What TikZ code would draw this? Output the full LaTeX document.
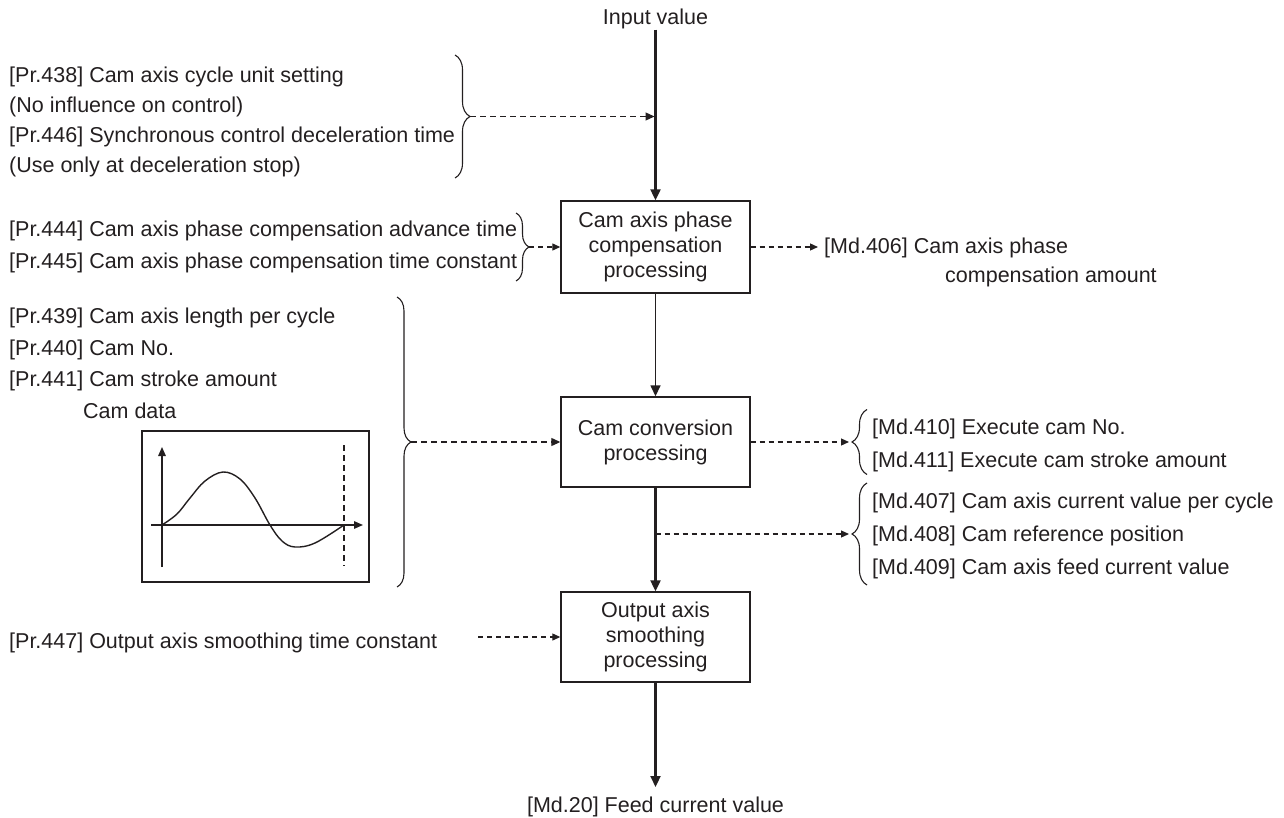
\documentclass[tikz,border=0pt]{standalone}
\usepackage{fontspec}
\setmainfont{Liberation Sans}
\usetikzlibrary{arrows.meta,decorations.pathreplacing,calc}
\definecolor{ink}{HTML}{231F20}
\begin{document}
\begin{tikzpicture}[x=1pt,y=-1pt,
  every node/.style={text=ink, font=\fontsize{21.5}{25}\selectfont},
  lbl/.style={anchor=base west, inner sep=0pt},
  ctr/.style={anchor=base, inner sep=0pt},
  procbox/.style={draw=ink, line width=1.4pt, minimum width=189pt, align=center, inner sep=0pt},
  flow/.style={draw=ink, line width=2.2pt, -{Triangle[length=11pt,width=10pt]}},
  thinflow/.style={draw=ink, line width=1.5pt, -{Triangle[length=11pt,width=10pt]}},
  dashflow/.style={draw=ink, line width=1.2pt, dash pattern=on 6pt off 4pt, -{Triangle[length=9pt,width=8pt]}},
  smalldash/.style={draw=ink, line width=1.2pt, dash pattern=on 5pt off 4pt, -{Triangle[length=8pt,width=7pt]}},
  bracedeco/.style={draw=ink, line width=1.1pt, decorate, decoration={brace, amplitude=#1}},
  thinline/.style={draw=ink, line width=1.4pt},
]
\useasboundingbox (0,0) rectangle (1284,818);

% main process boxes
\node[ctr] (inval) at (655.5,25) {Input value};
\node[procbox, minimum height=92pt] (box1) at (655.5,247) {Cam axis phase\\compensation\\processing};
\node[procbox, minimum height=90pt] (box2) at (655.5,442) {Cam conversion\\processing};
\node[procbox, minimum height=90pt] (box3) at (655.5,637) {Output axis\\smoothing\\processing};
\node[ctr] (md20) at (655.5,812) {[Md.20] Feed current value};
\coordinate (outend) at (655.5,787);

\draw[flow] (inval.south) -- (box1.north);
\draw[thinflow] (box1.south) -- (box2.north);
\draw[flow] (box2.south) -- (box3.north);
\draw[flow] (box3.south) -- (outend);

% left labels
\node[lbl] (p438) at (9,83) {[Pr.438] Cam axis cycle unit setting};
\node[lbl] (p438n) at (9,113) {(No influence on control)};
\node[lbl] (p446) at (9,143) {[Pr.446] Synchronous control deceleration time};
\node[lbl] (p446n) at (9,173) {(Use only at deceleration stop)};
\node[lbl] (p444) at (9,237) {[Pr.444] Cam axis phase compensation advance time};
\node[lbl] (p445) at (9,269) {[Pr.445] Cam axis phase compensation time constant};
\node[lbl] (p439) at (9,323) {[Pr.439] Cam axis length per cycle};
\node[lbl] (p440) at (9,355) {[Pr.440] Cam No.};
\node[lbl] (p441) at (9,386) {[Pr.441] Cam stroke amount};
\node[lbl] (camdata) at (83,418) {Cam data};
\node[lbl] (p447) at (9,648) {[Pr.447] Output axis smoothing time constant};

% right labels
\node[lbl] (m406) at (824,254) {[Md.406] Cam axis phase};
\node[lbl] (m406b) at (945,283) {compensation amount};
\node[lbl] (m410) at (872,434) {[Md.410] Execute cam No.};
\node[lbl] (m411) at (872,467) {[Md.411] Execute cam stroke amount};
\node[lbl] (m407) at (872,508) {[Md.407] Cam axis current value per cycle};
\node[lbl] (m408) at (872,541) {[Md.408] Cam reference position};
\node[lbl] (m409) at (872,574) {[Md.409] Cam axis feed current value};

% braces
\draw[bracedeco=15pt] (455,55) -- (455,178);
\coordinate (tipA) at (470,116.5);
\draw[bracedeco=13pt] (516,213) -- (516,281);
\coordinate (tipB) at (529,247);
\draw[bracedeco=14pt] (397,297) -- (397,587);
\coordinate (tipC) at (411,442);
\draw[bracedeco=15pt] (867,474.5) -- (867,409.5);
\coordinate (tipD) at (849,442);
\draw[bracedeco=15pt] (867,585) -- (867,483);
\coordinate (tipE) at (849,534);
\coordinate (md406end) at (818,247);
\coordinate (p447start) at (478,637);

% dashed connectors
\draw[dashflow, shorten >=1pt] (tipA) -- (tipA -| box1.north);
\draw[smalldash] (tipB) -- (box1.west);
\draw[smalldash] (box1.east) -- (md406end);
\draw[dashflow] (tipC) -- (box2.west);
\draw[smalldash] (box2.east) -- (tipD);
\draw[smalldash] (box2.south |- tipE) -- (tipE);
\draw[smalldash] (p447start) -- (box3.west);

% cam data graph
\node[draw=ink, line width=1.4pt, minimum width=227pt, minimum height=151pt, inner sep=0pt] (camgraph) at (255.5,506.5) {};
\draw[thinline, -{Triangle[length=9pt,width=7.5pt]}] (162,567) -- (162,447);
\draw[thinline, -{Triangle[length=9pt,width=7.5pt]}] (151,525) -- (363,525);
\draw[draw=ink, line width=1.1pt, dash pattern=on 6pt off 4pt] (344,445) -- (344,566);
\draw[thinline] plot[smooth, tension=0.6] coordinates {(162,525) (177,514) (190,498) (205,481) (223,472) (240,479) (255,498) (270,525) (282,541) (295,547) (315,543) (344,525)};
\end{tikzpicture}
\end{document}
